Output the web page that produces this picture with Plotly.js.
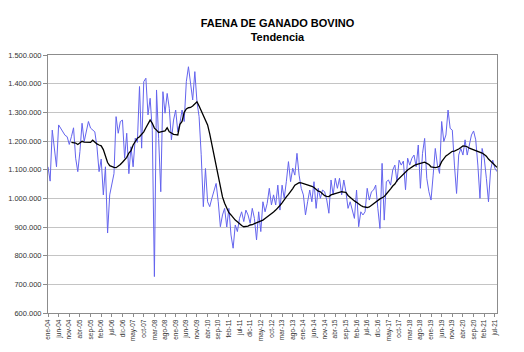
<!DOCTYPE html>
<html>
<head>
<meta charset="utf-8">
<script src="https://cdn.plot.ly/plotly-3.0.1.min.js"></script>
<style>html,body{margin:0;padding:0;background:#fff;}#chart{width:524px;height:352px;}</style>
</head>
<body>
<div id="chart"></div>
<script>
// Month name abbreviations (Spanish) and years covered
const monthNames = ["ene","feb","mar","abr","may","jun","jul","ago","sep","oct","nov","dic"];
const years = [4,5,6,7,8,9,10,11,12,13,14,15,16,17,18,19,20,21];
const lastMonthOf2021 = 8; // data through ago-21

// Categories: ene-04 ... ago-21
const months = [];
years.forEach(y => {
  const n = (y === 21) ? lastMonthOf2021 : 12;
  for (let m = 0; m < n; m++) months.push(monthNames[m] + "-" + String(y).padStart(2, "0"));
});

// Tick labels shown on the x axis (every 5 months)
const tickLabels = ["ene-04","jun-04","nov-04","abr-05","sep-05","feb-06","jul-06","dic-06","may-07","oct-07",
  "mar-08","ago-08","ene-09","jun-09","nov-09","abr-10","sep-10","feb-11","jul-11","dic-11",
  "may-12","oct-12","mar-13","ago-13","ene-14","jun-14","nov-14","abr-15","sep-15","feb-16",
  "jul-16","dic-16","may-17","oct-17","mar-18","ago-18","ene-19","jun-19","nov-19","abr-20",
  "sep-20","feb-21","jul-21"];

// Monthly cattle slaughter (thousands of head)
const faena = [
  1110,1060,1238,1170,1110,1256,1245,1235,1220,1215,1188,1215,
  1246,1140,1093,1163,1262,1198,1230,1268,1245,1238,1232,1180,
  1093,1137,1012,1110, 879,1012,1052,1086,1285,1227,1268,1273,
  1140,1227,1086,1180,1110,1210,1195,1390,1175,1407,1419,1291,
  1349,1238, 727,1378,1209,1023,1372,1297,1366,1314,1204,1273,
  1308,1232,1262,1308,1268,1407,1459,1401,1343,1442,1337,1285,
  1152, 971,1104, 988, 971,1000,1025,1052, 988, 901, 942, 965,
   900, 965, 872, 826, 907, 884, 930, 953, 919, 959, 942, 913,
   965, 930, 855, 953, 884, 988, 953, 982,1035, 977,1012, 977,
  1046, 959,1046,1000,1058,1128,1058,1105,1081,1157,1081,1035,
  1012, 942, 988,1029, 988,1058, 965,1035,1000,1029,1023, 994,
   948,1064,1012,1070,1035,1070,1012,1064,1023, 965, 988, 959,
   930,1029, 901, 953, 942, 953,1035, 994,1023,1029,1046, 965,
   895,1122, 924,1058,1064,1046,1099,1116,1058,1133,1116,1130,
  1030,1140,1116,1140,1151,1110,1186,1035,1157,1209,1070,1023,
   994,1081,1174,1116,1087,1268,1198,1221,1308,1244,1238,1116,
  1017,1151,1174,1151,1204,1151,1192,1221,1235,1204,1116,1000,
  1174,1140,1070, 988,1099,1133,1105,1093
];

// Trend (thousands of head)
const tendencia = [
  null,null,null,null,null,null,null,null,null,null,null,1195,
  1195,1193,1188,1195,1199,1196,1196,1197,1195,1203,1196,1190,
  1186,1183,1170,1150,1125,1114,1110,1108,1107,1112,1118,1126,
  1133,1143,1158,1166,1186,1198,1210,1215,1222,1232,1246,1258,
  1273,1262,1245,1238,1230,1232,1234,1235,1246,1232,1228,1223,
  1222,1221,1258,1268,1300,1312,1316,1317,1322,1330,1337,1322,
  1305,1293,1275,1256,1225,1190,1150,1110,1075,1040,1005, 983,
   968, 950, 942, 932, 924, 918, 910, 905, 901, 901, 903, 907,
   908, 912, 915, 917, 919, 924, 930, 935, 940, 945, 952, 959,
   966, 975, 984, 997,1005,1014,1023,1034,1046,1052,1055,1054,
  1052,1050,1046,1044,1042,1038,1030,1025,1023,1015,1009,1007,
  1006,1012,1014,1016,1017,1020,1023,1022,1021,1010,1003, 996,
   991, 986, 979, 975, 971, 970, 968, 970, 976, 983, 988, 993,
   998,1002,1006,1015,1023,1033,1043,1050,1062,1070,1078,1085,
  1092,1099,1104,1110,1114,1118,1120,1122,1125,1126,1122,1118,
  1110,1108,1107,1109,1112,1128,1140,1148,1153,1160,1164,1165,
  1168,1172,1177,1183,1182,1180,1175,1172,1170,1168,1163,1162,
  1158,1153,1147,1137,1130,1122,1113,1108
];

const FONT = "Liberation Sans, Arial, Helvetica, sans-serif";

const traces = [
  {x: months, y: faena, type: "scatter", mode: "lines",
   line: {color: "#6464ee", width: 1}, hoverinfo: "skip"},
  {x: months, y: tendencia, type: "scatter", mode: "lines",
   line: {color: "#000000", width: 1.3}, connectgaps: false, hoverinfo: "skip"}
];

const layout = {
  width: 524, height: 352,
  margin: {l: 48, r: 27, t: 55, b: 39, pad: 0},
  paper_bgcolor: "#ffffff", plot_bgcolor: "#ffffff",
  separators: ",.",
  showlegend: false,
  font: {family: FONT, color: "#333333"},
  title: {
    text: "<b>FAENA DE GANADO BOVINO</b><br><b>Tendencia</b>",
    font: {family: FONT, size: 11, color: "#000000"},
    x: 0.511, xanchor: "center", xref: "paper",
    y: 0.924, yanchor: "top", yref: "container"
  },
  xaxis: {
    type: "category",
    range: [0, months.length - 1],
    tickmode: "array", tickvals: tickLabels, ticktext: tickLabels,
    tickangle: -90,
    tickfont: {family: FONT, size: 6.5, color: "#333333"},
    showgrid: false, zeroline: false,
    showline: true, linecolor: "#8c8c8c", linewidth: 1, mirror: true,
    ticks: "outside", ticklen: 3, tickcolor: "#8c8c8c", tickwidth: 1
  },
  yaxis: {
    range: [600, 1500],
    dtick: 100, tick0: 600,
    tickformat: ",d", ticksuffix: ".000",
    tickfont: {family: FONT, size: 7.5, color: "#333333"},
    showgrid: true, gridcolor: "#c4c4c4", gridwidth: 1,
    zeroline: false,
    showline: true, linecolor: "#8c8c8c", linewidth: 1, mirror: true,
    ticks: "outside", ticklen: 4, tickcolor: "#8c8c8c", tickwidth: 1
  }
};

Plotly.newPlot("chart", traces, layout, {staticPlot: true, displayModeBar: false});
</script>
</body>
</html>
